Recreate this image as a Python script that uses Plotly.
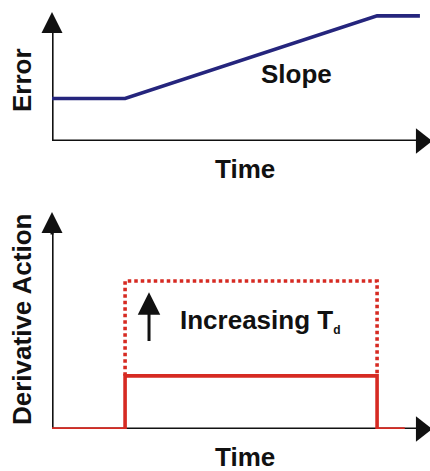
import plotly.graph_objects as go

# ---- data (time in arbitrary units, values in arbitrary units) ----
err_time = [0, 2.9, 12.9, 14.6]
err_value = [3.3, 3.3, 9.7, 9.7]

deriv_time = [0, 2.9, 2.9, 12.9, 12.9, 14.0]
deriv_value = [0, 0, 2.45, 2.45, 0, 0]

deriv_hi_time = [2.9, 2.9, 12.9, 12.9]
deriv_hi_value = [2.45, 6.82, 6.82, 2.45]

axis_time = [0, 15]
axis_top = 10
x_head_time = 14.66

td_arrow_time = 3.85
td_arrow_from = 3.6
td_arrow_to = 6.3

NAVY = "#25257d"
RED = "#d62a22"
BLACK = "#111111"
FONT = "Liberation Sans, Arial, sans-serif"

W, H = 430, 471


def px(v):
    return v / W


def py(v):
    return 1 - v / H


x_dom = [px(52), px(430)]
top_dom = [py(141), py(12)]
bot_dom = [py(429), py(212)]

fig = go.Figure()

# axis lines (as traces so data draws over them)
for xa, ya in (("x", "y"), ("x2", "y2")):
    fig.add_trace(go.Scatter(x=[axis_time[0], axis_time[0], axis_time[1] - 0.4],
                             y=[axis_top - 0.6, 0, 0], mode="lines",
                             line=dict(color=BLACK, width=3.2), xaxis=xa, yaxis=ya,
                             hoverinfo="skip", showlegend=False))
    fig.add_trace(go.Scatter(x=[x_head_time], y=[0], mode="markers",
                             marker=dict(symbol="triangle-right", size=22, color=BLACK,
                                         line=dict(width=0)),
                             xaxis=xa, yaxis=ya, hoverinfo="skip", showlegend=False))

fig.add_trace(go.Scatter(x=err_time, y=err_value, mode="lines",
                         line=dict(color=NAVY, width=3.6), xaxis="x", yaxis="y",
                         showlegend=False))
fig.add_trace(go.Scatter(x=deriv_hi_time, y=deriv_hi_value, mode="lines",
                         line=dict(color=RED, width=3.6, dash="3.5px,3px"),
                         xaxis="x2", yaxis="y2", showlegend=False))
fig.add_trace(go.Scatter(x=deriv_time, y=deriv_value, mode="lines",
                         line=dict(color=RED, width=3.6), xaxis="x2", yaxis="y2",
                         showlegend=False))

ann = []
for xr, yr in (("x", "y"), ("x2", "y2")):
    # y-axis arrowhead
    ann.append(dict(x=axis_time[0], y=axis_top, ax=axis_time[0], ay=axis_top - 1.5,
                    xref=xr, yref=yr, axref=xr, ayref=yr, text=" ", showarrow=True,
                    arrowhead=2, arrowwidth=3, arrowsize=1.4, arrowcolor=BLACK))

ann.append(dict(x=td_arrow_time, y=td_arrow_to, ax=td_arrow_time, ay=td_arrow_from,
                xref="x2", yref="y2", axref="x2", ayref="y2", text=" ", showarrow=True,
                arrowhead=2, arrowwidth=3, arrowsize=1.5, arrowcolor=BLACK))

lab = dict(family=FONT, size=26, color=BLACK)
ann += [
    dict(text="<b>Error</b>", x=px(22), y=py(80), xref="paper", yref="paper",
         xanchor="center", yanchor="middle",
         textangle=-90, showarrow=False, font=lab),
    dict(text="<b>Time</b>", x=px(245), y=py(169), xref="paper", yref="paper",
         xanchor="center", yanchor="middle", showarrow=False, font=lab),
    dict(text="<b>Derivative Action</b>", x=px(22), y=py(320), xref="paper",
         yref="paper", xanchor="center", yanchor="middle",
         textangle=-90, showarrow=False, font=lab),
    dict(text="<b>Time</b>", x=px(245), y=py(457), xref="paper", yref="paper",
         xanchor="center", yanchor="middle", showarrow=False, font=lab),
    dict(text="<b>Slope</b>", x=9.72, y=5.2, xref="x", yref="y", showarrow=False,
         xanchor="center", yanchor="middle",
         font=dict(family=FONT, size=26, color=BLACK)),
    dict(text="<b>Increasing T<sub><span style='font-size:12px'>d</span></sub></b>",
         x=5.0, y=5.0, xref="x2", yref="y2",
         xanchor="left", yanchor="middle", showarrow=False,
         font=dict(family=FONT, size=26, color=BLACK)),
]

hidden = dict(visible=False, showgrid=False, zeroline=False, fixedrange=True)
fig.update_layout(
    width=W, height=H, margin=dict(l=0, r=0, t=0, b=0),
    paper_bgcolor="white", plot_bgcolor="white", showlegend=False,
    xaxis=dict(domain=x_dom, range=[0, 15], anchor="y", **hidden),
    yaxis=dict(domain=top_dom, range=[0, 10], anchor="x", **hidden),
    xaxis2=dict(domain=x_dom, range=[0, 15], anchor="y2", **hidden),
    yaxis2=dict(domain=bot_dom, range=[0, 10], anchor="x2", **hidden),
    annotations=ann,
)
for tr in fig.data:
    tr.cliponaxis = False

fig.write_html(
    "out.html",
    config={"displayModeBar": False},
    post_script="document.body.style.margin='0';document.body.style.overflow='hidden';",
)
